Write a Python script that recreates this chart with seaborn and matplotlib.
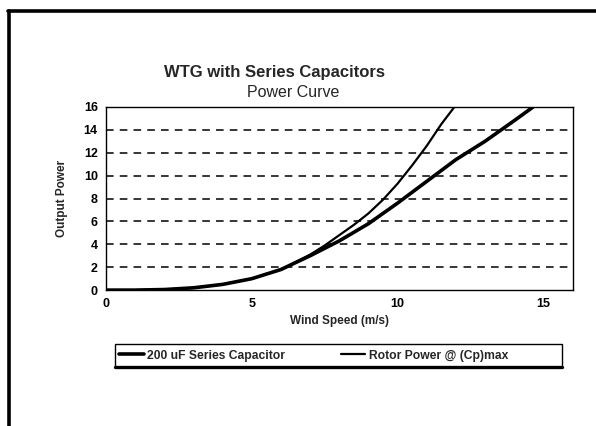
import matplotlib
matplotlib.use("Agg")
import matplotlib.pyplot as plt
import matplotlib.lines as mlines
import matplotlib.patches as mpatches
import seaborn as sns
import pandas as pd

# wind speed (m/s) vs output power
cap_speed = [0, 1, 2, 3, 4, 5, 6, 7, 8, 9, 10, 11, 12, 13, 14, 14.65]
cap_power = [0, 0, 0.05, 0.2, 0.5, 1.0, 1.8, 3.0, 4.3, 5.8, 7.6, 9.5, 11.4, 13.0, 14.8, 16.0]

rotor_speed = [0, 1, 2, 3, 4, 5, 6, 7, 7.5, 8, 8.5, 9, 9.5, 10, 10.5, 11, 11.5, 11.95]
rotor_power = [0, 0, 0.05, 0.2, 0.5, 1.0, 1.8, 3.1, 3.9, 4.8, 5.7, 6.7, 7.9, 9.3, 10.9, 12.6, 14.5, 16.0]

cap_label = "200 uF Series Capacitor"
rotor_label = "Rotor Power @ (Cp)max"

sns.set_style("white")
plt.rcParams["font.family"] = ["Liberation Sans", "DejaVu Sans"]

df_cap = pd.DataFrame({"speed": cap_speed, "power": cap_power})
df_rotor = pd.DataFrame({"speed": rotor_speed, "power": rotor_power})

fig = plt.figure(figsize=(5.96, 4.26), dpi=100)
ax = fig.add_axes([0.178, 0.319, 0.7826, 0.430])

sns.lineplot(data=df_cap, x="speed", y="power", color="black", linewidth=2.6, ax=ax)
sns.lineplot(data=df_rotor, x="speed", y="power", color="black", linewidth=1.6, ax=ax)

ax.set_xlim(0, 16)
ax.set_ylim(0, 16)
ax.set_xticks([0, 5, 10, 15])
ax.set_xticks(range(0, 17), minor=True)
ax.set_yticks(range(0, 17, 2))
ax.set_yticks(range(0, 17), minor=True)
for y in range(2, 16, 2):
    ax.axhline(y, color="black", linestyle=(0, (5, 4)), linewidth=1.1, zorder=0)

ax.tick_params(axis="both", which="major", direction="inout", length=6, width=1,
               labelsize=9, colors="black", pad=3)
ax.tick_params(axis="both", which="minor", direction="inout", length=4, width=1)
for lab in ax.get_xticklabels() + ax.get_yticklabels():
    lab.set_fontweight("bold")
for s in ax.spines.values():
    s.set_color("black")
    s.set_linewidth(1.0)

ax.set_xlabel("Wind Speed (m/s)", fontsize=8.5, fontweight="bold", labelpad=3)
ax.set_ylabel("Output Power", fontsize=8.5, fontweight="bold", labelpad=11)

fig.text(275 / 596, 1 - 73 / 426, "WTG with Series Capacitors", fontsize=12,
         fontweight="bold", ha="center", va="center")
fig.text(293 / 596, 1 - 93 / 426, "Power Curve", fontsize=11.5, ha="center", va="center")

h1 = mlines.Line2D([], [], color="black", linewidth=2.6)
h2 = mlines.Line2D([], [], color="black", linewidth=1.6)
leg = fig.legend([h1, h2], [cap_label, rotor_label], ncol=2, loc="center left",
                 bbox_to_anchor=(117 / 596, 1 - 355.5 / 426),
                 prop={"weight": "bold", "size": 8.7}, handlelength=2.0,
                 handletextpad=0.3, columnspacing=4.6, frameon=False,
                 borderpad=0.2, borderaxespad=0)

# legend box and page frame as in the original scan
fig.add_artist(mpatches.Rectangle((115 / 596, 1 - 367 / 426), 447 / 596, 23 / 426,
                                  fill=False, edgecolor="black", linewidth=1.0,
                                  transform=fig.transFigure))
fig.add_artist(mlines.Line2D([115 / 596, 562 / 596], [1 - 367 / 426, 1 - 367 / 426],
                             color="black", linewidth=2.4, transform=fig.transFigure))
fig.add_artist(mlines.Line2D([9 / 596, 9 / 596], [0, 1 - 11 / 426], color="black",
                             linewidth=2.6, transform=fig.transFigure))
fig.add_artist(mlines.Line2D([8 / 596, 1], [1 - 11 / 426, 1 - 11 / 426], color="black",
                             linewidth=2.6, transform=fig.transFigure))

fig.savefig("out.png", dpi=100)
